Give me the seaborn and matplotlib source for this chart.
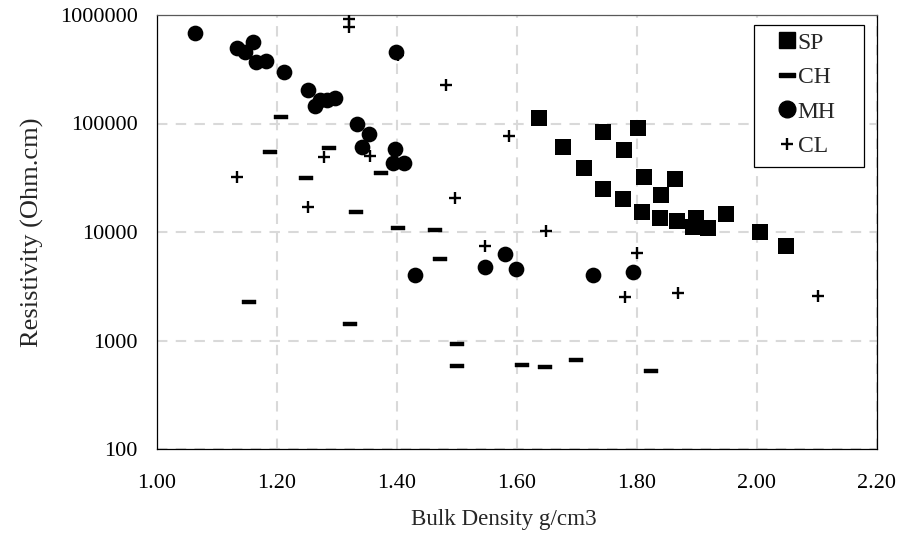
import matplotlib
matplotlib.use("Agg")
import matplotlib.pyplot as plt
import seaborn as sns
import numpy as np
from matplotlib.lines import Line2D
from matplotlib.patches import Rectangle

sns.set_style("white")
plt.rcParams['font.family'] = ['Liberation Serif', 'DejaVu Serif']

SP_x = [1.637, 1.676, 1.744, 1.802, 1.779, 1.711, 1.811, 1.864, 1.744, 1.840,
        1.777, 1.808, 1.838, 1.866, 1.899, 1.894, 1.919, 1.949, 2.005, 2.049]
SP_y = [112000, 61000, 83000, 90000, 57000, 38700, 31900, 31000, 24900, 21800,
        20100, 15200, 13400, 12600, 13600, 11200, 10800, 14600, 10000, 7500]

CH_x = [1.207, 1.189, 1.286, 1.249, 1.373, 1.331, 1.401, 1.463, 1.153, 1.322,
        1.472, 1.500, 1.500, 1.608, 1.647, 1.699, 1.823]
CH_y = [116000, 55000, 59800, 31300, 34700, 15400, 11000, 10400, 2280, 1420,
        5600, 923, 582, 594, 570, 666, 523]

MH_x = [1.063, 1.134, 1.160, 1.147, 1.165, 1.182, 1.211, 1.251, 1.264, 1.272,
        1.283, 1.297, 1.333, 1.354, 1.341, 1.397, 1.394, 1.412, 1.398, 1.430,
        1.547, 1.580, 1.599, 1.726, 1.793]
MH_y = [678000, 500000, 568000, 459000, 366000, 379000, 298000, 204000, 145000, 165000,
        166000, 173000, 100000, 80000, 61000, 57800, 43500, 43000, 459000, 4000,
        4730, 6220, 4560, 4000, 4250]

CL_x = [1.320, 1.320, 1.482, 1.134, 1.251, 1.279, 1.355, 1.496, 1.648, 1.586,
        1.546, 1.800, 1.780, 1.868, 2.101, 1.402]
CL_y = [910000, 780000, 226000, 31900, 16900, 49500, 50500, 20400, 10200, 76700,
        7500, 6450, 2500, 2720, 2570, 430000]

series_labels = ['SP', 'CH', 'MH', 'CL']
x_ticks = [1.00, 1.20, 1.40, 1.60, 1.80, 2.00, 2.20]
y_ticks = [100, 1000, 10000, 100000, 1000000]

fig = plt.figure(figsize=(9.10, 5.33), dpi=100)
ax = fig.add_axes([157/910, 1-449/533, 720/910, 434/533])

dash = [(-1, -0.26), (1, -0.26), (1, 0.26), (-1, 0.26), (-1, -0.26)]

sns.scatterplot(x=SP_x, y=SP_y, marker='s', s=118, color='black', edgecolor='black', linewidth=0, ax=ax, zorder=3)
sns.scatterplot(x=CH_x, y=CH_y, marker=dash, s=115, color='black', edgecolor='black', linewidth=0.3, ax=ax, zorder=3)
sns.scatterplot(x=MH_x, y=MH_y, marker='o', s=128, color='black', edgecolor='black', linewidth=0, ax=ax, zorder=3)
ax.scatter(CL_x, CL_y, marker='+', s=85, color='black', linewidths=1.7, zorder=3)

ax.set_yscale('log')
ax.set_xlim(1.0, 2.2)
ax.set_ylim(100, 1000000)
ax.set_xticks(x_ticks)
ax.set_xticklabels([f"{v:.2f}" for v in x_ticks])
ax.set_yticks(y_ticks)
ax.set_yticklabels([str(v) for v in y_ticks])
ax.yaxis.set_minor_locator(matplotlib.ticker.NullLocator())

ax.grid(True, which='major', color='#d9d9d9', linestyle=(0, (5, 4)), linewidth=1.5)
ax.set_axisbelow(True)
for sp in ax.spines.values():
    sp.set_visible(True)
    sp.set_color('black')
    sp.set_linewidth(0.9)
ax.spines['top'].set_color('#595959')

ax.tick_params(axis='both', direction='in', length=5, width=0.8, labelsize=16,
               colors='black')
ax.tick_params(axis='x', pad=18)
ax.tick_params(axis='y', pad=14)

ax.set_xlabel('Bulk Density g/cm3', fontsize=16.6)
ax.set_ylabel('Resistivity (Ohm.cm)', fontsize=19)
ax.xaxis.label.set_va('center')
ax.xaxis.set_label_coords(0.481, (449 - 520) / 434)
ax.yaxis.label.set_va('center')
ax.yaxis.set_label_coords((32 - 157) / 720, 0.5)

# legend frame
x0, x1 = (754 - 157) / 720, (864 - 157) / 720
y0, y1 = (449 - 167) / 434, (449 - 25) / 434
ax.add_patch(Rectangle((x0, y0), x1 - x0, y1 - y0, transform=ax.transAxes,
                       facecolor='white', edgecolor='black', linewidth=0.9, zorder=5))

handles = [
    Line2D([], [], marker='s', color='black', linestyle='none', markersize=11.5),
    Line2D([], [], marker=dash, color='black', linestyle='none', markersize=11.5),
    Line2D([], [], marker='o', color='black', linestyle='none', markersize=12),
    Line2D([], [], marker='+', color='black', linestyle='none', markersize=9, markeredgewidth=1.7),
]
leg = ax.legend(handles, series_labels, loc='upper left',
                bbox_to_anchor=((777.5 - 157) / 720, (449 - 32) / 434), frameon=False,
                fontsize=17, handlelength=0.8, handletextpad=0.06, labelspacing=0.55,
                borderpad=0, borderaxespad=0)
leg.set_zorder(6)

fig.savefig('out.png', dpi=100)
